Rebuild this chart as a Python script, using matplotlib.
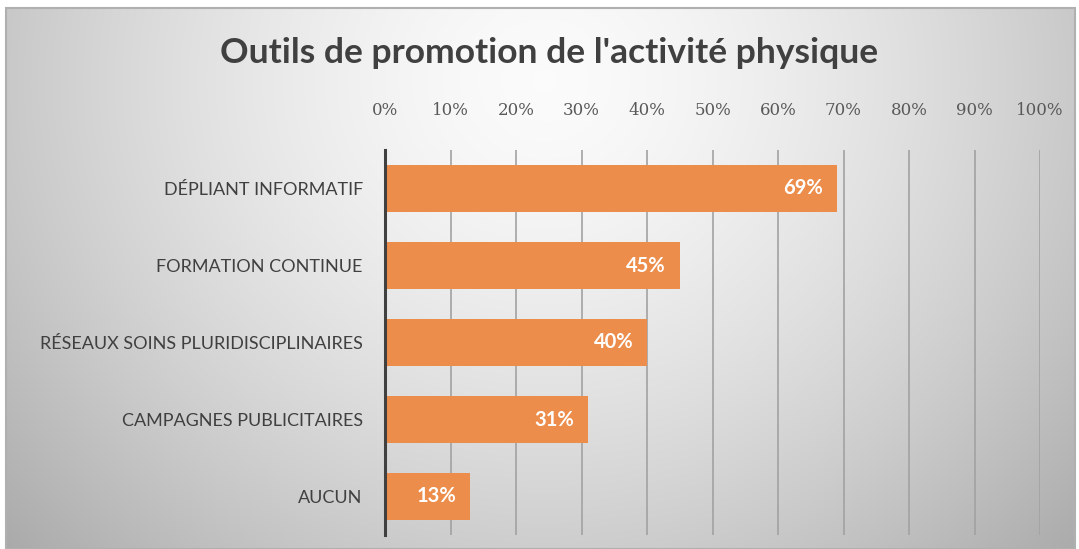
import numpy as np
import matplotlib
matplotlib.use("Agg")
import matplotlib.pyplot as plt
from matplotlib.patches import Rectangle

title = "Outils de promotion de l'activité physique"
categories = ["DÉPLIANT INFORMATIF", "FORMATION CONTINUE",
              "RÉSEAUX SOINS PLURIDISCIPLINAIRES", "CAMPAGNES PUBLICITAIRES", "AUCUN"]
values = [0.69, 0.45, 0.40, 0.31, 0.13]
value_labels = ["69%", "45%", "40%", "31%", "13%"]
xticks = [0.0, 0.1, 0.2, 0.3, 0.4, 0.5, 0.6, 0.7, 0.8, 0.9, 1.0]
xtick_labels = ["0%", "10%", "20%", "30%", "40%", "50%", "60%", "70%", "80%", "90%", "100%"]

W, H = 1079, 549
fig = plt.figure(figsize=(W / 100, H / 100), dpi=100)
fig.patch.set_facecolor("white")

# background gradient panel
bx0, bx1, by0, by1 = 6, 1075, 8, 549
bg = fig.add_axes([bx0 / W, 1 - by1 / H, (bx1 - bx0) / W, (by1 - by0) / H], zorder=-5)
nx, ny = 540, 270
xs = np.linspace(bx0, bx1, nx)
ys = np.linspace(by0, by1, ny)
X, Y = np.meshgrid(xs, ys)
r = np.sqrt(((X - 545) / 560) ** 2 + ((Y - 80) / 520) ** 2)
val = 0.985 - 0.21 * np.clip(r, 0, 1.4) ** 1.5
bg.imshow(np.dstack([val, val, val]), aspect="auto", extent=[0, 1, 0, 1], origin="upper")
bg.set_xlim(0, 1)
bg.set_ylim(0, 1)
bg.axis("off")
fig.add_artist(Rectangle((bx0 / W, 1 - by1 / H), (bx1 - bx0) / W, (by1 - by0) / H,
                         transform=fig.transFigure, fill=False, edgecolor="#b0b0b0",
                         linewidth=1.5, zorder=-4))

# main axes
left, right, top, bottom = 385, 1040, 150, 535
ax = fig.add_axes([left / W, 1 - bottom / H, (right - left) / W, (bottom - top) / H])
ax.patch.set_alpha(0)
y = np.arange(len(categories))
ax.barh(y, values, height=0.6, color="#ED8D4B", zorder=2)
ax.set_xlim(0, 1)
ax.set_ylim(len(categories) - 0.5, -0.5)

for s in ["top", "right", "bottom"]:
    ax.spines[s].set_visible(False)
ax.spines["left"].set_color("#404040")
ax.spines["left"].set_linewidth(2.2)
ax.spines["left"].set_zorder(4)

ax.xaxis.tick_top()
ax.set_xticks(xticks)
ax.set_xticklabels(xtick_labels, family="DejaVu Serif", fontsize=12, color="#595959")
ax.tick_params(axis="x", length=0, pad=22)
ax.set_yticks(y)
ax.set_yticklabels(categories, family="Lato", fontsize=13, color="#404040")
ax.tick_params(axis="y", length=0, pad=16)

for xt in xticks[1:]:
    ax.axvline(xt, color="#a2a2a2", linewidth=1.2, zorder=1)

for yi, v, lab in zip(y, values, value_labels):
    ax.annotate(lab, (v, yi), xytext=(-10, 0), textcoords="offset points",
                ha="right", va="center", color="white", fontsize=14.5,
                fontweight="bold", family="Lato", zorder=5)

fig.text(549 / W, 1 - 53 / H, title, ha="center", va="center", fontsize=25.5,
         fontweight="bold", family="Lato", color="#404040")

fig.savefig("out.png", dpi=100)
